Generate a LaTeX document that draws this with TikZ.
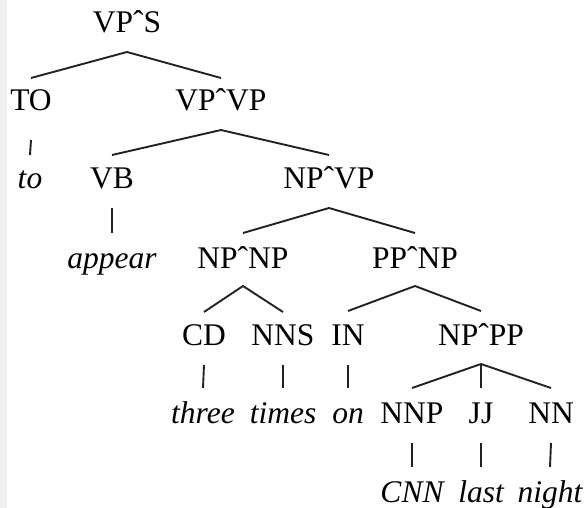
\documentclass[tikz,border=0pt]{standalone}
\usepackage{fontspec}
\setmainfont{Liberation Serif}
\definecolor{stripgray}{RGB}{240,240,240}
\definecolor{edgeink}{RGB}{34,34,34}
\begin{document}
\begin{tikzpicture}[x=1pt,y=-1pt,
  cat/.style={anchor=base,inner sep=0pt,font=\fontsize{31.5}{36}\selectfont},
  word/.style={cat,font=\fontsize{31.5}{36}\selectfont\itshape},
  branch/.style={line width=1.9pt,draw=edgeink,line join=miter},
  strip/.style={fill=stripgray}]
\useasboundingbox (0,0) rectangle (586,508);
\fill[strip] (0,0) rectangle (7,508);

% categories and words, placed on their baselines
\node[cat]  (vps)   at (127,33)  {VPˆS};
\node[cat]  (to)    at (31,111)  {TO};
\node[cat]  (vpvp)  at (221,111) {VPˆVP};
\node[word] (wto)   at (30,188)  {to};
\node[cat]  (vb)    at (112,188) {VB};
\node[cat]  (npvp)  at (329,188) {NPˆVP};
\node[word] (wapp)  at (112,268) {appear};
\node[cat]  (npnp)  at (243,268) {NPˆNP};
\node[cat]  (ppnp)  at (415,268) {PPˆNP};
\node[cat]  (cd)    at (204,345) {CD};
\node[cat]  (nns)   at (283,345) {NNS};
\node[cat]  (in)    at (348,345) {IN};
\node[cat]  (nppp)  at (481,345) {NPˆPP};
\node[word] (wthr)  at (203,423) {three};
\node[word] (wtim)  at (283,423) {times};
\node[word] (won)   at (348,423) {on};
\node[cat]  (nnp)   at (412,423) {NNP};
\node[cat]  (jj)    at (481,423) {JJ};
\node[cat]  (nn)    at (551,423) {NN};
\node[word] (wcnn)  at (412,502) {CNN};
\node[word] (wlast) at (481,502) {last};
\node[word] (wnig)  at (550,502) {night};

% branching edges
\draw[branch] ([yshift=33pt]to.base) -- ([yshift=-19pt]vps.base) -- ([yshift=33pt]vpvp.base);
\draw[branch] ([yshift=33pt]vb.base) -- ([yshift=-19pt]vpvp.base) -- ([yshift=33pt]npvp.base);
\draw[branch] ([yshift=35pt]npnp.base) -- ([yshift=-20pt]npvp.base) -- ([yshift=35pt]ppnp.base);
\draw[branch] ([yshift=33pt]cd.base) -- ([yshift=-18pt]npnp.base) -- ([yshift=33pt]nns.base);
\draw[branch] ([yshift=34pt]in.base) -- ([yshift=-18pt]ppnp.base) -- ([yshift=34pt]nppp.base);
\draw[branch] ([yshift=35pt]nnp.base) -- ([yshift=-19pt]nppp.base) -- ([yshift=35pt]nn.base);
\draw[branch] ([yshift=-19pt]nppp.base) -- ([yshift=35pt]jj.base);

% unary edges to the words
\draw[branch] ([yshift=-29pt]to.base) -- ([yshift=33pt]wto.base);
\draw[branch] ([yshift=-20pt]vb.base) -- ([yshift=35pt]wapp.base);
\draw[branch] ([yshift=-20pt]cd.base) -- ([yshift=35pt]wthr.base);
\draw[branch] ([yshift=-20pt]nns.base) -- ([yshift=35pt]wtim.base);
\draw[branch] ([yshift=-20pt]in.base) -- ([yshift=35pt]won.base);
\draw[branch] ([yshift=-20pt]nnp.base) -- ([yshift=35pt]wcnn.base);
\draw[branch] ([yshift=-20pt]jj.base) -- ([yshift=35pt]wlast.base);
\draw[branch] ([yshift=-20pt]nn.base) -- ([yshift=35pt]wnig.base);
\end{tikzpicture}
\end{document}
